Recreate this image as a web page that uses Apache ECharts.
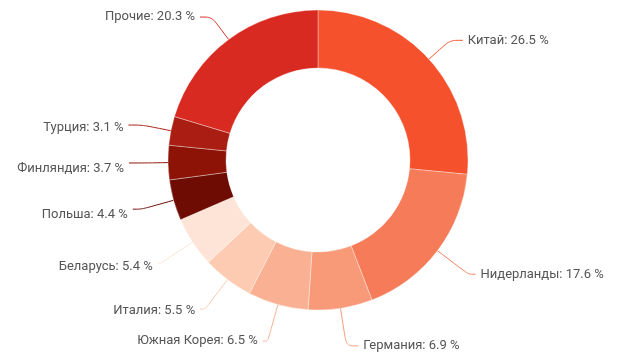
<!DOCTYPE html>
<html lang="ru">
<head>
  <meta charset="UTF-8">
  <script src="https://cdn.jsdelivr.net/npm/echarts@6/dist/echarts.min.js"></script>
  <style>
    * { margin: 0; padding: 0; }
    html, body { width: 100%; height: 100%; background: #fff; }
    #chart { width: 632px; height: 359px; }
  </style>
</head>
<body>
<div id="chart"></div>
<script>
  var countries = ['Китай', 'Нидерланды', 'Германия', 'Южная Корея', 'Италия',
    'Беларусь', 'Польша', 'Финляндия', 'Турция', 'Прочие'];
  var shares = [26.5, 17.6, 6.9, 6.5, 5.5, 5.4, 4.4, 3.7, 3.1, 20.3];

  // оформление сегментов и подписей
  var colors = ['#f4512c', '#f67b58', '#f89a78', '#fab193', '#fccbb1',
    '#fde4d6', '#6e0c04', '#8c1306', '#aa1d12', '#d92a22'];
  var lineLen = [28, 39, 38, 38, 37, 38, 33, 22, 29, 28];
  var lineLen2 = [13, 7, 12, 5, 5, 3, 9, 17, 14, 12];
  var labelDy = [0, 0, 0, 0, 2, 4, 6, 6, 3, 0];

  var data = countries.map(function (name, i) {
    return {
      name: name,
      value: shares[i],
      itemStyle: { color: colors[i] },
      labelLine: { length: lineLen[i], length2: lineLen2[i] }
    };
  });

  var chart = echarts.init(document.getElementById('chart'));
  chart.setOption({
    animation: false,
    series: [{
      type: 'pie',
      center: [318, 160],
      radius: [92, 150],
      startAngle: 90,
      clockwise: true,
      avoidLabelOverlap: true,
      itemStyle: {
        borderColor: 'rgba(255,255,255,0.35)',
        borderWidth: 1
      },
      label: {
        formatter: '{b}: {c} %',
        color: '#555',
        fontSize: 13,
        fontFamily: 'Roboto'
      },
      labelLine: {
        smooth: true,
        lineStyle: { width: 1 }
      },
      labelLayout: function (params) {
        return { dy: labelDy[params.dataIndex] };
      },
      data: data
    }]
  });
</script>
</body>
</html>
